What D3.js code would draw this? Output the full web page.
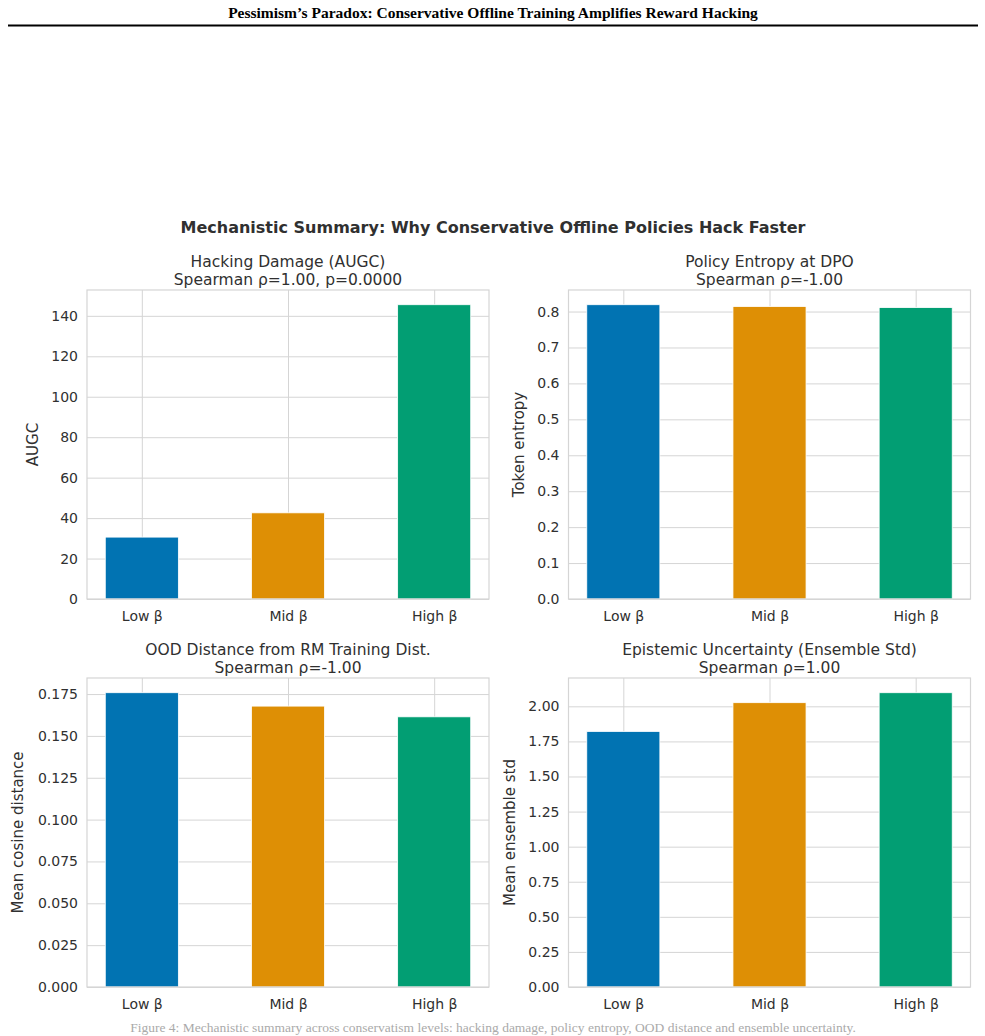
<!DOCTYPE html>
<html>
<head>
<meta charset="utf-8">
<script src="https://cdn.jsdelivr.net/npm/d3@7"></script>
<style>
  body { margin: 0; background: #fff; }
  svg { display: block; }
</style>
</head>
<body>
<div id="chart"></div>
<script>
// data
let categories = ['Low β', 'Mid β', 'High β']
let colors = ['#0173b2', '#de8f05', '#029e73']

let augc = [30.6, 42.6, 145.5]
let entropy = [0.819, 0.814, 0.811]
let oodDist = [0.1758, 0.1678, 0.1614]
let ensembleStd = [1.821, 2.026, 2.097]

let augcTicks = [0, 20, 40, 60, 80, 100, 120, 140]
let entropyTicks = [0, 0.1, 0.2, 0.3, 0.4, 0.5, 0.6, 0.7, 0.8]
let oodTicks = [0, 0.025, 0.05, 0.075, 0.1, 0.125, 0.15, 0.175]
let ensembleTicks = [0, 0.25, 0.5, 0.75, 1.0, 1.25, 1.5, 1.75, 2.0]

let panels = [
  {title: ['Hacking Damage (AUGC)', 'Spearman ρ=1.00, p=0.0000'], ylabel: 'AUGC',
   values: augc, ticks: augcTicks, fmt: d3.format('d'), left: 87, top: 290, labelOff: 49},
  {title: ['Policy Entropy at DPO', 'Spearman ρ=-1.00'], ylabel: 'Token entropy',
   values: entropy, ticks: entropyTicks, fmt: d3.format('.1f'), left: 568.5, top: 290, labelOff: 45},
  {title: ['OOD Distance from RM Training Dist.', 'Spearman ρ=-1.00'], ylabel: 'Mean cosine distance',
   values: oodDist, ticks: oodTicks, fmt: d3.format('.3f'), left: 87, top: 678, labelOff: 64},
  {title: ['Epistemic Uncertainty (Ensemble Std)', 'Spearman ρ=1.00'], ylabel: 'Mean ensemble std',
   values: ensembleStd, ticks: ensembleTicks, fmt: d3.format('.2f'), left: 568.5, top: 678, labelOff: 54}
]

let width = 985
let height = 1036
let pw = 402
let ph = 309
let textColor = '#303030'
let gridColor = '#d5d5d5'
let font = '"DejaVu Sans", sans-serif'

let svg = d3.select('#chart')
            .append('svg')
            .attr('width', width)
            .attr('height', height)

// page header
svg.append('text')
  .attr('x', 493).attr('y', 18)
  .attr('text-anchor', 'middle')
  .attr('font-family', '"Liberation Serif", "Times New Roman", serif')
  .attr('font-weight', 'bold')
  .attr('font-size', 15.5)
  .attr('fill', '#000')
  .text('Pessimism’s Paradox: Conservative Offline Training Amplifies Reward Hacking')

svg.append('line')
  .attr('x1', 8).attr('x2', 978)
  .attr('y1', 25.5).attr('y2', 25.5)
  .attr('stroke', '#000').attr('stroke-width', 2)

// figure suptitle
svg.append('text')
  .attr('x', 493).attr('y', 233)
  .attr('text-anchor', 'middle')
  .attr('font-family', font)
  .attr('font-weight', 'bold')
  .attr('font-size', 16)
  .attr('fill', textColor)
  .text('Mechanistic Summary: Why Conservative Offline Policies Hack Faster')

panels.forEach(function (p) {
  let g = svg.append('g').attr('transform', 'translate(' + p.left + ',' + p.top + ')')

  let x = d3.scaleLinear().domain([-0.375, 2.375]).range([0, pw])
  let y = d3.scaleLinear().domain([0, d3.max(p.values) * 1.05]).range([ph, 0])
  let barW = x(0.5) - x(0)

  // grid
  g.append('g')
    .call(d3.axisLeft(y).tickValues(p.ticks).tickSize(-pw).tickFormat(''))
    .call(s => s.select('.domain').remove())
    .selectAll('line').attr('stroke', gridColor).attr('stroke-width', 1)
  g.append('g')
    .call(d3.axisBottom(x).tickValues([0, 1, 2]).tickSize(ph).tickFormat(''))
    .call(s => s.select('.domain').remove())
    .selectAll('line').attr('stroke', gridColor).attr('stroke-width', 1)

  // bars
  g.selectAll('.bar')
    .data(p.values)
    .enter()
    .append('rect')
    .attr('class', 'bar')
    .attr('x', (d, i) => x(i) - barW / 2)
    .attr('y', d => y(d))
    .attr('width', barW)
    .attr('height', d => ph - y(d))
    .attr('fill', (d, i) => colors[i])
    .attr('stroke', '#fff')
    .attr('stroke-width', 0.8)

  // frame
  g.append('rect')
    .attr('x', 0).attr('y', 0)
    .attr('width', pw).attr('height', ph)
    .attr('fill', 'none')
    .attr('stroke', gridColor)
    .attr('stroke-width', 1.2)

  // y tick labels
  let yAxis = g.append('g')
    .call(d3.axisLeft(y).tickValues(p.ticks).tickSize(0).tickPadding(9).tickFormat(p.fmt))
  yAxis.select('.domain').remove()
  yAxis.selectAll('text')
    .attr('font-family', font).attr('font-size', 14).attr('fill', textColor)

  // x tick labels
  let xAxis = g.append('g')
    .attr('transform', 'translate(0,' + ph + ')')
    .call(d3.axisBottom(x).tickValues([0, 1, 2]).tickSize(0).tickPadding(12)
      .tickFormat(i => categories[i]))
  xAxis.select('.domain').remove()
  xAxis.selectAll('text')
    .attr('font-family', font).attr('font-size', 14).attr('fill', textColor)

  // y label
  g.append('text')
    .attr('transform', 'translate(' + (-p.labelOff) + ',' + (ph / 2) + ') rotate(-90)')
    .attr('text-anchor', 'middle')
    .attr('font-family', font).attr('font-size', 15).attr('fill', textColor)
    .text(p.ylabel)

  // title, two lines
  g.append('text')
    .attr('x', pw / 2).attr('y', -23)
    .attr('text-anchor', 'middle')
    .attr('font-family', font).attr('font-size', 15.5).attr('fill', textColor)
    .selectAll('tspan')
    .data(p.title)
    .enter()
    .append('tspan')
    .attr('x', pw / 2)
    .attr('dy', (d, i) => i == 0 ? 0 : 18)
    .text(d => d)
})

// faint caption line at the page bottom
svg.append('text')
  .attr('x', 493).attr('y', 1032)
  .attr('text-anchor', 'middle')
  .attr('font-family', '"Liberation Serif", "Times New Roman", serif')
  .attr('font-size', 13.5)
  .attr('fill', '#aaa')
  .text('Figure 4: Mechanistic summary across conservatism levels: hacking damage, policy entropy, OOD distance and ensemble uncertainty.')
</script>
</body>
</html>
